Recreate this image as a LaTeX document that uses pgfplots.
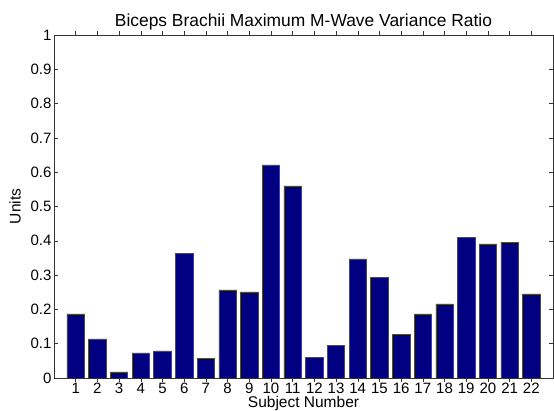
\documentclass[border=0pt]{standalone}
\usepackage{pgfplots}
\pgfplotsset{compat=1.18}
\usepackage{fontspec}
\setmainfont{Liberation Sans}
\definecolor{barblue}{RGB}{0,0,128}
\begin{document}
\begin{tikzpicture}[x=1pt,y=1pt]
\useasboundingbox (-54,-33) rectangle (500,378);
\begin{axis}[
  at={(0,0)}, anchor=south west,
  scale only axis, width=499pt, height=343pt,
  xmin=0, xmax=23, ymin=0, ymax=1,
  xtick={1,...,22},
  ytick={0,0.1,...,1},
  yticklabels={0,0.1,0.2,0.3,0.4,0.5,0.6,0.7,0.8,0.9,1},
  tick align=inside,
  major tick length=4pt,
  every tick/.style={black!80},
  axis line style={black!80},
  ticklabel style={font=\fontsize{15}{16}\selectfont},
  xticklabel style={yshift=2.5pt},
  yticklabel style={xshift=1pt},
  /pgf/number format/assume math mode=true,
  title={Biceps Brachii Maximum M-Wave Variance Ratio},
  title style={font=\fontsize{17.4}{18}\selectfont, yshift=-5pt},
  xlabel={Subject Number},
  ylabel={Units},
  label style={font=\fontsize{15.5}{16}\selectfont},
  xlabel style={yshift=4.5pt},
  ylabel style={yshift=3pt},
  ybar, bar width=17.4pt,
]
\addplot[fill=barblue, draw=black!70, line width=0.6pt] coordinates {
(1,0.187) (2,0.114) (3,0.018) (4,0.073) (5,0.079) (6,0.364) (7,0.058)
(8,0.257) (9,0.251) (10,0.621) (11,0.560) (12,0.061) (13,0.096) (14,0.347)
(15,0.294) (16,0.128) (17,0.187) (18,0.216) (19,0.411) (20,0.391) (21,0.396) (22,0.245)
};
\end{axis}
\end{tikzpicture}
\end{document}
